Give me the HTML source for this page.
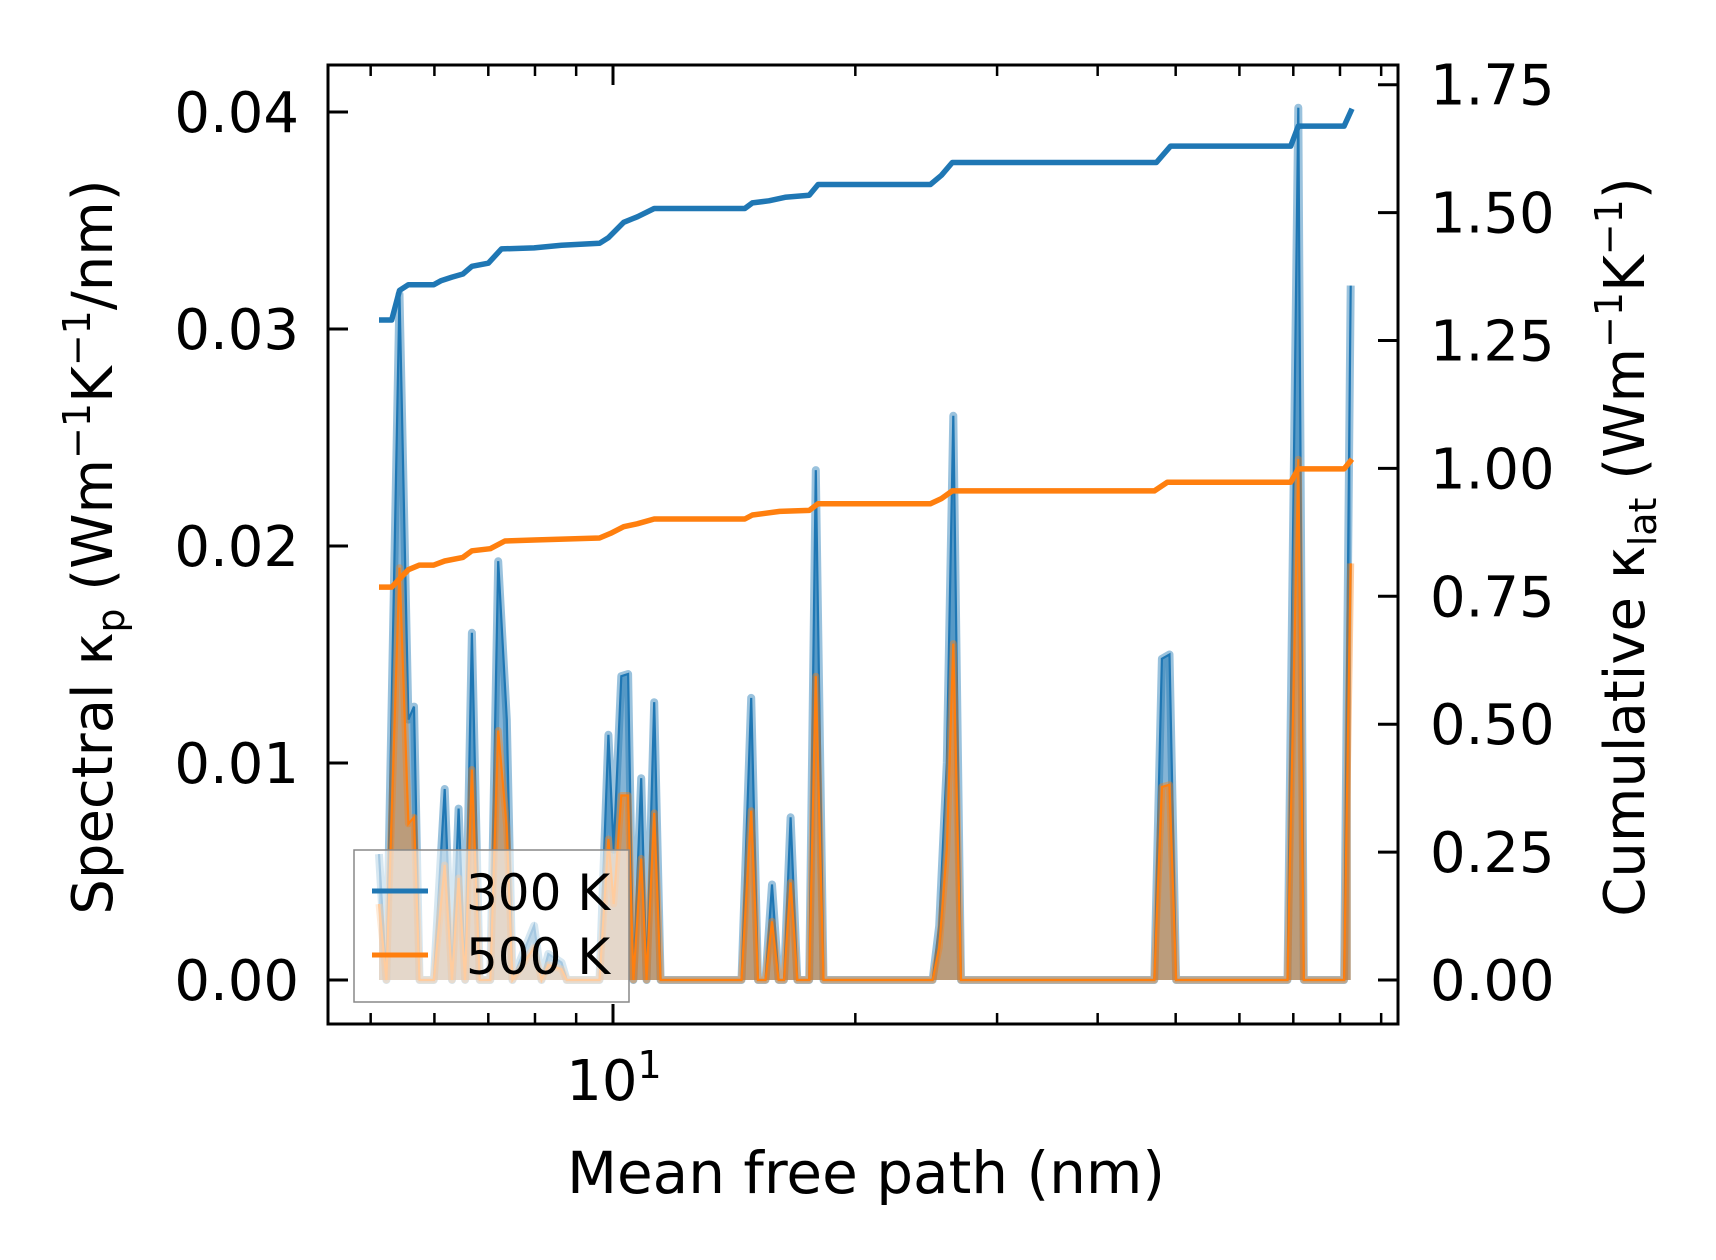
<!DOCTYPE html>
<html><head><meta charset="utf-8"><style>
html,body{margin:0;padding:0;background:#fff}
svg{display:block;font-family:"DejaVu Sans","Liberation Sans",sans-serif}
</style></head><body>
<svg id="chart" width="1716" height="1260" viewBox="0 0 1716 1260" xmlns="http://www.w3.org/2000/svg">
<g id="plot"></g>
</svg>
<script>
const mfpS=[5.12,5.23,5.43,5.57,5.66,5.75,5.99,6.18,6.31,6.43,6.55,6.68,6.83,7.04,7.20,7.38,7.50,7.98,8.15,8.31,8.63,8.76,9.62,9.87,10.02,10.24,10.44,10.60,10.84,11.01,11.25,11.46,14.44,14.85,15.14,15.47,15.76,16.06,16.31,16.62,16.94,17.53,17.86,18.26,24.95,25.42,25.98,26.47,27.06,47.03,48.07,49.13,50.06,68.85,71.0,72.13,80.95,82.5];
const spec300=[0.0058,0,0.0316,0.012,0.0126,0,0,0.0088,0,0.0079,0,0.016,0,0,0.0193,0.012,0,0.0025,0,0.0012,0.0008,0,0,0.0113,0.006,0.014,0.0141,0,0.0093,0,0.0128,0,0,0.013,0,0,0.0044,0,0,0.0075,0,0,0.0235,0,0,0.0025,0.01,0.026,0,0,0.0148,0.015,0,0,0.0402,0,0,0.032];
const spec500=[0.0035,0,0.019,0.0072,0.0075,0,0,0.0053,0,0.0047,0,0.0097,0,0,0.0115,0.007,0,0.0015,0,0.0007,0.0005,0,0,0.0065,0.0035,0.0085,0.0085,0,0.0056,0,0.0077,0,0,0.0078,0,0,0.0027,0,0,0.0045,0,0,0.014,0,0,0.0015,0.006,0.0155,0,0,0.0089,0.009,0,0,0.024,0,0,0.0192];
const mfpC300=[5.12,5.31,5.43,5.57,5.99,6.12,6.31,6.51,6.68,7.00,7.27,7.98,8.63,9.62,9.87,10.31,10.73,11.25,14.58,14.90,15.62,16.36,17.53,17.98,24.79,25.58,26.39,47.32,49.28,69.49,71.0,80.95,82.8];
const cum300=[1.290,1.290,1.348,1.359,1.359,1.367,1.374,1.380,1.395,1.401,1.429,1.431,1.436,1.440,1.451,1.481,1.492,1.508,1.508,1.519,1.523,1.530,1.534,1.555,1.555,1.573,1.598,1.598,1.630,1.630,1.669,1.669,1.703];
const mfpC500=[5.12,5.31,5.57,5.75,5.99,6.18,6.51,6.68,7.04,7.34,7.98,9.62,9.93,10.31,10.73,11.25,14.58,14.90,16.11,17.53,17.98,24.79,25.58,26.39,47.03,48.83,69.49,71.0,80.95,82.8];
const cum500=[0.768,0.768,0.802,0.811,0.811,0.819,0.826,0.839,0.843,0.858,0.860,0.864,0.873,0.886,0.892,0.901,0.901,0.909,0.916,0.918,0.931,0.931,0.941,0.956,0.956,0.973,0.973,0.999,0.999,1.018];
const leftTicks=["0.00","0.01","0.02","0.03","0.04"];
const leftTickVals=[0,0.01,0.02,0.03,0.04];
const rightTicks=["0.00","0.25","0.50","0.75","1.00","1.25","1.50","1.75"];
const rightTickVals=[0,0.25,0.5,0.75,1.0,1.25,1.5,1.75];
const xMinorVals=[5,6,7,8,9,20,30,40,50,60,70,80,90];

const L=328,R=1398,T=65,B=1024;
const X=v=>613+805*Math.log10(v/10);
const Y=v=>980-v*21700;
const Y2=v=>980-v*511.6;
const NS="http://www.w3.org/2000/svg";
const g=document.getElementById('plot');
function mk(tag,attrs,parent){const e=document.createElementNS(NS,tag);for(const k in attrs)e.setAttribute(k,attrs[k]);(parent||g).appendChild(e);return e;}

function specPath(vals){let d='';mfpS.forEach((m,i)=>{d+=(i?'L':'M')+X(m).toFixed(1)+','+Y(vals[i]).toFixed(1);});return d;}
function fillPath(vals){return specPath(vals)+'L'+X(mfpS[mfpS.length-1]).toFixed(1)+','+Y(0)+'L'+X(mfpS[0]).toFixed(1)+','+Y(0)+'Z';}
function cumPath(ms,vals){let d='';ms.forEach((m,i)=>{d+=(i?'L':'M')+X(m).toFixed(1)+','+Y2(vals[i]).toFixed(1);});return d;}

let e;
e=mk('path',{d:fillPath(spec300),fill:'#1f77b4','fill-opacity':0.55,stroke:'none'});


e=mk('path',{d:specPath(spec300),fill:'none',stroke:'#1f77b4','stroke-opacity':0.45,'stroke-width':8,'stroke-linejoin':'round'});


e=mk('path',{d:specPath(spec300),fill:'none',stroke:'#1f77b4','stroke-width':2.2});


e=mk('path',{d:fillPath(spec500),fill:'#ff7f0e','fill-opacity':0.45,stroke:'none'});


e=mk('path',{d:specPath(spec500),fill:'none',stroke:'#ff7f0e','stroke-opacity':0.4,'stroke-width':7,'stroke-linejoin':'round'});


e=mk('path',{d:specPath(spec500),fill:'none',stroke:'#ff7f0e','stroke-width':2.2});


e=mk('path',{d:cumPath(mfpC300,cum300),fill:'none',stroke:'#1f77b4','stroke-width':5.5,'stroke-linejoin':'round'});


e=mk('path',{d:cumPath(mfpC500,cum500),fill:'none',stroke:'#ff7f0e','stroke-width':5.5,'stroke-linejoin':'round'});



e=mk('rect',{x:L,y:T,width:R-L,height:B-T,fill:'none',stroke:'#000','stroke-width':3});



leftTickVals.forEach((v,i)=>{
  const y=Y(v);
  let t=mk('line',{x1:L,x2:L+20,y1:y,y2:y,stroke:'#000','stroke-width':3});
  
  
  let tx=mk('text',{x:299,y:y+20,'text-anchor':'end','font-size':56});
  tx.textContent=leftTicks[i];
  
  
});
rightTickVals.forEach((v,i)=>{
  const y=Y2(v);
  let t=mk('line',{x1:R-20,x2:R,y1:y,y2:y,stroke:'#000','stroke-width':3});
  
  
  let tx=mk('text',{x:1430,y:y+20,'text-anchor':'start','font-size':56});
  tx.textContent=rightTicks[i];
  
  
});
[10].forEach(v=>{
  [[B,B-20],[T,T+20]].forEach(([a,b])=>{
    let t=mk('line',{x1:X(v),x2:X(v),y1:a,y2:b,stroke:'#000','stroke-width':3});
    
    
  });
});
xMinorVals.forEach(v=>{
  [[B,B-11],[T,T+11]].forEach(([a,b])=>{
    let t=mk('line',{x1:X(v),x2:X(v),y1:a,y2:b,stroke:'#000','stroke-width':2.5});
    
    
  });
});
</script>
<svg style="position:absolute;left:0;top:0" width="1716" height="1260" xmlns="http://www.w3.org/2000/svg" font-family="DejaVu Sans, Liberation Sans, sans-serif">
  <g>
    <rect x="354" y="850" width="275" height="152" fill="#fff" fill-opacity="0.6" stroke="#888" stroke-width="1.5"/>
    <line x1="372" x2="428" y1="891" y2="891" stroke="#1f77b4" stroke-width="5"/>
    <text x="466" y="910" font-size="50">300 K</text>
    <line x1="372" x2="428" y1="955" y2="955" stroke="#ff7f0e" stroke-width="5"/>
    <text x="466" y="974" font-size="50">500 K</text>
  </g>
  <text x="614" y="1100" text-anchor="middle" font-size="56">10<tspan font-size="38" dy="-22">1</tspan></text>
  <text x="866" y="1193" text-anchor="middle" font-size="58">Mean free path (nm)</text>
  <text transform="translate(112,547) rotate(-90)" text-anchor="middle" font-size="56">Spectral κ<tspan font-size="38" dy="12">p</tspan><tspan dy="-12"> (Wm</tspan><tspan font-size="38" dy="-22">−1</tspan><tspan dy="22">K</tspan><tspan font-size="38" dy="-22">−1</tspan><tspan dy="22">/nm)</tspan></text>
  <text transform="translate(1644,547) rotate(-90)" text-anchor="middle" font-size="56">Cumulative κ<tspan font-size="38" dy="12">lat</tspan><tspan dy="-12"> (Wm</tspan><tspan font-size="38" dy="-22">−1</tspan><tspan dy="22">K</tspan><tspan font-size="38" dy="-22">−1</tspan><tspan dy="22">)</tspan></text>
</svg>
</body></html>
